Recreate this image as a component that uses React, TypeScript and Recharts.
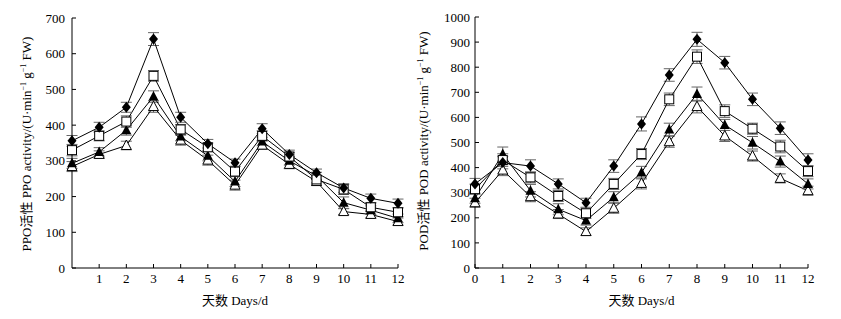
import React from 'react';
import { LineChart, Line, XAxis, YAxis, ErrorBar, Label } from 'recharts';

// days after storage
const days = [0, 1, 2, 3, 4, 5, 6, 7, 8, 9, 10, 11, 12];
const ppoXTicks = [1, 2, 3, 4, 5, 6, 7, 8, 9, 10, 11, 12];
const podXTicks = [0, 1, 2, 3, 4, 5, 6, 7, 8, 9, 10, 11, 12];
const ppoYTicks = [0, 100, 200, 300, 400, 500, 600, 700];
const podYTicks = [0, 100, 200, 300, 400, 500, 600, 700, 800, 900, 1000];

// PPO activity, four treatments
const ppoDiamond = [356, 394, 450, 641, 422, 348, 295, 390, 318, 267, 224, 195, 181];
const ppoSquare = [330, 370, 410, 538, 388, 338, 270, 370, 312, 248, 220, 170, 156];
const ppoTriFill = [293, 325, 386, 480, 368, 314, 242, 354, 300, 258, 183, 162, 139];
const ppoTriOpen = [284, 318, 343, 452, 358, 302, 232, 344, 290, 242, 158, 150, 130];
const ppoDiamondErr = [15, 14, 14, 18, 14, 12, 10, 14, 12, 10, 12, 12, 12];
const ppoSquareErr = [16, 14, 16, 15, 14, 12, 14, 14, 12, 10, 14, 12, 12];
const ppoTriFillErr = [14, 12, 14, 16, 12, 14, 14, 12, 12, 10, 16, 12, 12];
const ppoTriOpenErr = [14, 10, 12, 16, 14, 14, 14, 12, 12, 10, 8, 10, 10];

// POD activity, four treatments
const podDiamond = [335, 420, 406, 335, 260, 406, 574, 769, 911, 818, 672, 557, 430];
const podSquare = [314, 430, 361, 287, 218, 335, 454, 672, 842, 625, 555, 484, 386];
const podTriFill = [278, 454, 308, 234, 189, 282, 380, 552, 693, 570, 499, 424, 335];
const podTriOpen = [260, 390, 284, 215, 145, 238, 337, 503, 643, 526, 446, 357, 308];
const podDiamondErr = [22, 25, 25, 20, 18, 25, 28, 25, 28, 25, 25, 25, 25];
const podSquareErr = [20, 25, 22, 22, 20, 22, 22, 25, 27, 25, 22, 25, 22];
const podTriFillErr = [20, 28, 25, 22, 18, 22, 25, 25, 28, 22, 25, 22, 20];
const podTriOpenErr = [18, 22, 20, 18, 15, 20, 22, 22, 25, 22, 20, 18, 18];

const ppoData = days.map((d, i) => ({
  day: d,
  a: ppoDiamond[i], aErr: ppoDiamondErr[i],
  b: ppoSquare[i], bErr: ppoSquareErr[i],
  c: ppoTriFill[i], cErr: ppoTriFillErr[i],
  e: ppoTriOpen[i], eErr: ppoTriOpenErr[i],
}));

const podData = days.map((d, i) => ({
  day: d,
  a: podDiamond[i], aErr: podDiamondErr[i],
  b: podSquare[i], bErr: podSquareErr[i],
  c: podTriFill[i], cErr: podTriFillErr[i],
  e: podTriOpen[i], eErr: podTriOpenErr[i],
}));

const FONT = "'Liberation Serif', 'Times New Roman', 'Noto Sans CJK SC', serif";
const tickStyle = { fill: '#000', fontSize: 13, fontFamily: FONT };
const ERR = '#666';

function DiamondDot(p: any) {
  const { cx, cy } = p;
  if (cx == null || cy == null) return null;
  return <path key={`d${cx}`} d={`M${cx},${cy - 5.5}L${cx + 4.5},${cy}L${cx},${cy + 5.5}L${cx - 4.5},${cy}Z`} fill="#000" />;
}

function SquareDot(p: any) {
  const { cx, cy } = p;
  if (cx == null || cy == null) return null;
  return <rect key={`s${cx}`} x={cx - 4.5} y={cy - 4.5} width={9} height={9} fill="#fff" stroke="#000" strokeWidth={1} />;
}

function TriFillDot(p: any) {
  const { cx, cy } = p;
  if (cx == null || cy == null) return null;
  return <path key={`t${cx}`} d={`M${cx},${cy - 5.5}L${cx + 5},${cy + 4}L${cx - 5},${cy + 4}Z`} fill="#000" />;
}

function TriOpenDot(p: any) {
  const { cx, cy } = p;
  if (cx == null || cy == null) return null;
  return <path key={`o${cx}`} d={`M${cx},${cy - 5.5}L${cx + 5},${cy + 4}L${cx - 5},${cy + 4}Z`} fill="#fff" stroke="#000" strokeWidth={1} />;
}

// rotated y-axis title with superscript units
function yTitle(name: string, x: number, y: number) {
  return () => (
    <text x={x} y={y} transform={`rotate(-90 ${x} ${y})`} textAnchor="middle" fontSize={13} fontFamily={FONT} fill="#000">
      {`${name}活性 ${name} activity/(U·min`}
      <tspan dy={-5} fontSize={8}>−1</tspan>
      <tspan dy={5}>{'  g'}</tspan>
      <tspan dy={-5} fontSize={8}>−1</tspan>
      <tspan dy={5}>{' FW)'}</tspan>
    </text>
  );
}

function xTitle(props: any) {
  const { viewBox } = props;
  const cx = viewBox.x + viewBox.width / 2;
  return (
    <text x={cx} y={305} textAnchor="middle" fontSize={13} fontFamily={FONT} fill="#000">
      天数 Days/d
    </text>
  );
}

function renderLines() {
  const common = { stroke: '#000', strokeWidth: 1, isAnimationActive: false, type: 'linear' as const };
  return [
    <Line key="e" dataKey="e" {...common} dot={TriOpenDot}>
      <ErrorBar dataKey="eErr" width={5.5} stroke={ERR} strokeWidth={1} direction="y" />
    </Line>,
    <Line key="c" dataKey="c" {...common} dot={TriFillDot}>
      <ErrorBar dataKey="cErr" width={5.5} stroke={ERR} strokeWidth={1} direction="y" />
    </Line>,
    <Line key="b" dataKey="b" {...common} dot={SquareDot}>
      <ErrorBar dataKey="bErr" width={5.5} stroke={ERR} strokeWidth={1} direction="y" />
    </Line>,
    <Line key="a" dataKey="a" {...common} dot={DiamondDot}>
      <ErrorBar dataKey="aErr" width={5.5} stroke={ERR} strokeWidth={1} direction="y" />
    </Line>,
  ];
}

export default function App() {
  return (
    <div style={{ position: 'absolute', left: 0, top: 0, width: 841, height: 319, background: '#fff' }}>
      <div style={{ position: 'absolute', left: 0, top: 0 }}>
        <LineChart width={405} height={319} data={ppoData} margin={{ top: 18, right: 7, bottom: 21, left: 32 }}>
          <XAxis
            dataKey="day"
            type="number"
            domain={[0, 12]}
            ticks={ppoXTicks}
            height={30}
            tickSize={-4}
            tickMargin={10}
            stroke="#000"
            tick={tickStyle}
            interval={0}
          >
            <Label content={xTitle} />
          </XAxis>
          <YAxis
            type="number"
            domain={[0, 700]}
            ticks={ppoYTicks}
            width={40}
            tickSize={-4}
            tickMargin={11}
            stroke="#000"
            tick={tickStyle}
            interval={0}
          >
            <Label content={yTitle('PPO', 31, 144)} />
          </YAxis>
          {renderLines()}
        </LineChart>
      </div>
      <div style={{ position: 'absolute', left: 405, top: 0 }}>
        <LineChart width={436} height={319} data={podData} margin={{ top: 17, right: 33, bottom: 21, left: 30 }}>
          <XAxis
            dataKey="day"
            type="number"
            domain={[0, 12]}
            ticks={podXTicks}
            height={30}
            tickSize={-4}
            tickMargin={10}
            stroke="#000"
            tick={tickStyle}
            interval={0}
          >
            <Label content={xTitle} />
          </XAxis>
          <YAxis
            type="number"
            domain={[0, 1000]}
            ticks={podYTicks}
            width={40}
            tickSize={-4}
            tickMargin={9}
            stroke="#000"
            tick={tickStyle}
            interval={0}
          >
            <Label content={yTitle('POD', 23, 141)} />
          </YAxis>
          {renderLines()}
        </LineChart>
      </div>
    </div>
  );
}
